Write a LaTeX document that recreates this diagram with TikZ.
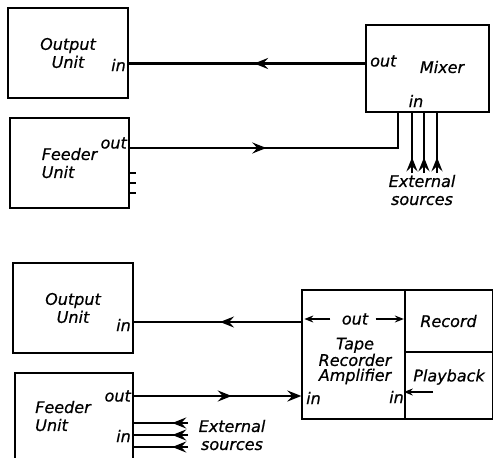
\documentclass[tikz,border=0pt]{standalone}
\usepackage{fontspec}
\setmainfont{DejaVu Sans}[ItalicFeatures={FakeBold=0.6}]
\usetikzlibrary{arrows.meta, positioning, decorations.markings}

\begin{document}
\begin{tikzpicture}[x=1pt, y=-1pt,
    font=\fontsize{16}{18}\selectfont\itshape,
    box/.style={draw, line width=1.3pt},
    lbl/.style={inner sep=1pt},
    conn/.style={line width=2.4pt},
    fineline/.style={line width=1.4pt},
    midtip/.style={postaction={decorate}, decoration={markings,
        mark=at position #1 with {\arrow{Stealth[length=14pt,width=11pt,inset=5pt]}}}}]

    \useasboundingbox (0,0) rectangle (494,457);
    \clip (0,0) rectangle (494,457);

    % top: mixer feeding the output unit
    \node[box, minimum width=120, minimum height=90, align=center] (out1) at (68,53) {Output\\Unit};
    \node[box, minimum width=123, minimum height=87] (mix) at (427.5,68.5) {};
    \node[box, minimum width=119, minimum height=90, align=left] (feed1) at (69.5,163) {Feeder\\Unit};

    \node[lbl, anchor=east] (out1in) at (127,65) {in};
    \node[lbl, anchor=west] (mixout) at (369,61) {out};
    \node (mixlbl) at (442,67) {Mixer};
    \node (mixin) at (416,101) {in};
    \node[lbl, anchor=east] (feed1out) at (128,143) {out};
    \node[align=center] (ext1) at (422,190) {External\\sources};

    \draw[conn, midtip=0.47] ([yshift=5pt]mix.west) -- ([yshift=5pt]mix.west -| out1.east);
    \draw[conn, midtip=0.45] ([yshift=15pt]feed1.east) -| ([xshift=-29.5pt]mix.south);
    \foreach \dy in {10,20,30}
        \draw[fineline] ([yshift=-\dy pt]feed1.east) -- ++(6,0);
    \foreach \x [count=\i] in {412,424,437} {
        \coordinate (src\i) at (\x,173);
        \draw[conn, midtip=0.26] (src\i) -- (src\i |- mix.south);
    }

    % bottom: tape recorder amplifier
    \node[box, minimum width=120, minimum height=90, align=center] (out2) at (73,308) {Output\\Unit};
    \node[box, minimum width=118, minimum height=97] (feed2) at (74,421.5) {};
    \node[box, minimum width=103, minimum height=129] (tra) at (353.5,354.5) {};
    \node[box, minimum width=88, minimum height=62] (rec) at (448.5,321) {Record};
    \node[box, minimum width=88, minimum height=67] (play) at (448.5,385.5) {};

    \node[align=left] (feed2lbl) at (63,416) {Feeder\\Unit};
    \node[lbl, anchor=east] (out2in) at (132,325) {in};
    \node[lbl, anchor=east] (feed2out) at (132,396) {out};
    \node[lbl, anchor=east] (feed2in) at (132,436) {in};
    \node (traout) at (355,319) {out};
    \node[align=center, font=\fontsize{16}{15}\selectfont\itshape] (tralbl) at (355,361) {Tape\\Recorder\\Amplifier};
    \node[lbl, anchor=west] (train) at (305,398) {in};
    \node[lbl, anchor=east] (traplayin) at (405,397) {in};
    \node (playlbl) at (449,377) {Playback};
    \node[align=center] (ext2) at (232,435) {External\\sources};

    \draw[conn, midtip=0.485] ([yshift=32.5pt]tra.west) -- ([yshift=32.5pt]tra.west -| out2.east);
    \draw[fineline, -{Stealth[length=9pt,width=7pt,inset=3pt]}] ([xshift=-8pt]traout.west) -- ([xshift=3pt]traout.west -| tra.west);
    \draw[fineline, -{Stealth[length=9pt,width=7pt,inset=3pt]}] ([xshift=4pt]traout.east) -- (traout.east -| rec.west);
    \draw[conn, midtip=0.585, -{Stealth[length=14pt,width=11pt,inset=5pt]}] ([yshift=25.5pt]feed2.east) -- ([yshift=25.5pt]feed2.east -| tra.west);
    \coordinate (pb) at (433,392);
    \draw[fineline, -{Stealth[length=9pt,width=7pt,inset=3pt]}] (pb) -- (pb -| play.west);
    \foreach \y [count=\i] in {423,435,447} {
        \coordinate (fsrc\i) at (188,\y);
        \draw[conn, midtip=0.29] (fsrc\i) -- (fsrc\i -| feed2.east);
    }

\end{tikzpicture}
\end{document}
